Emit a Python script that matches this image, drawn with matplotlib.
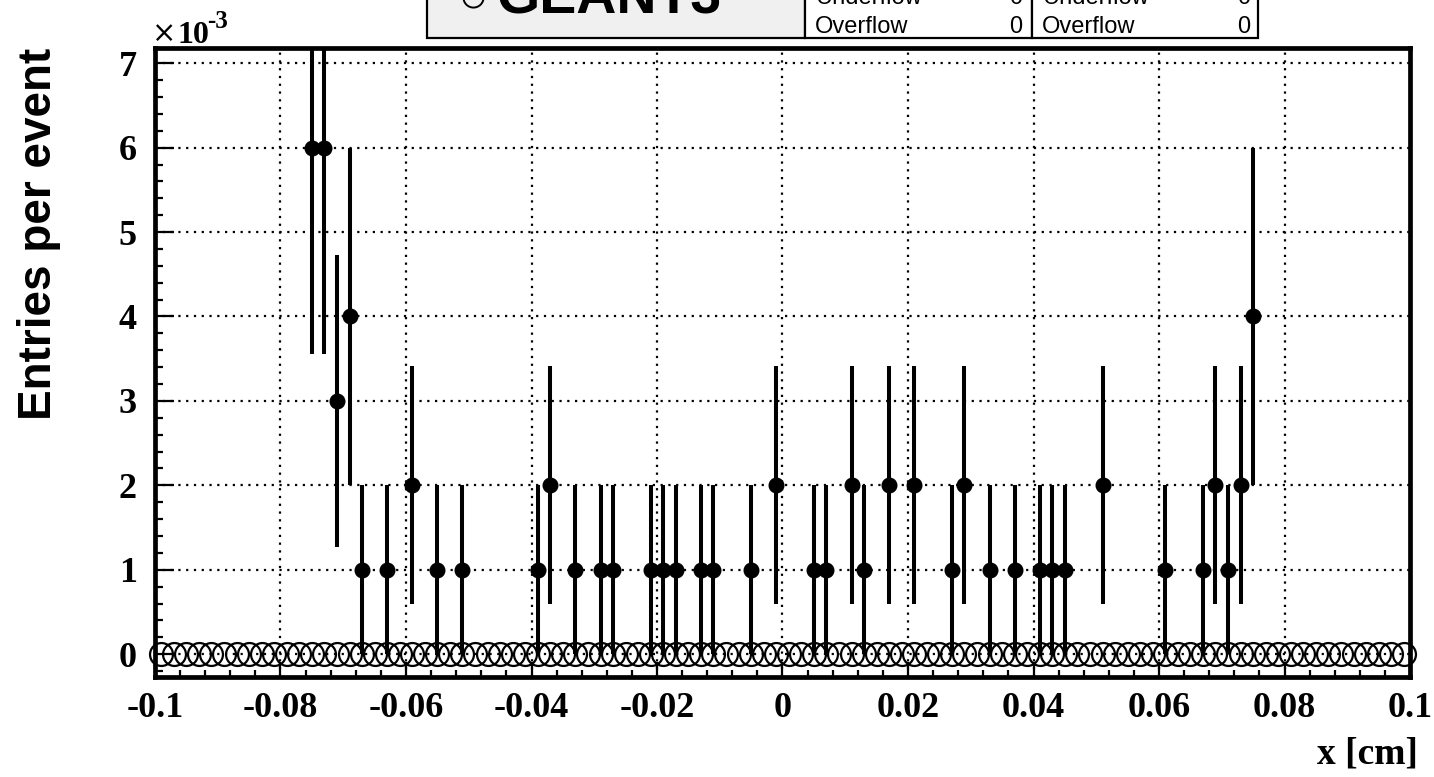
import matplotlib
matplotlib.use('Agg')
import matplotlib.pyplot as plt
import numpy as np
from matplotlib.patches import Rectangle
from matplotlib.ticker import MultipleLocator, FuncFormatter

# Data (units of 1e-3 entries per event)
data_x = [-0.075, -0.073, -0.071, -0.069, -0.067, -0.063, -0.059, -0.055, -0.051,
          -0.039, -0.037, -0.033, -0.029, -0.027, -0.021, -0.019, -0.017, -0.013,
          -0.011, -0.005, -0.001, 0.005, 0.007, 0.011, 0.013, 0.017, 0.021, 0.027,
          0.029, 0.033, 0.037, 0.041, 0.043, 0.045, 0.051, 0.061, 0.067, 0.069,
          0.071, 0.073, 0.075]
data_y = [6, 6, 3, 4, 1, 1, 2, 1, 1,
          1, 2, 1, 1, 1, 1, 1, 1, 1,
          1, 1, 2, 1, 1, 2, 1, 2, 2, 1,
          2, 1, 1, 1, 1, 1, 2, 1, 1, 2,
          1, 2, 4]
data_err = [2.45, 2.45, 1.73, 2.0, 1.0, 1.0, 1.41, 1.0, 1.0,
            1.0, 1.41, 1.0, 1.0, 1.0, 1.0, 1.0, 1.0, 1.0,
            1.0, 1.0, 1.41, 1.0, 1.0, 1.41, 1.0, 1.41, 1.41, 1.0,
            1.41, 1.0, 1.0, 1.0, 1.0, 1.0, 1.41, 1.0, 1.0, 1.41,
            1.0, 1.41, 2.0]

# GEANT3 histogram: 100 bins from -0.1 to 0.1, all empty
geant_edges = np.linspace(-0.1, 0.1, 101)
geant_x = 0.5 * (geant_edges[:-1] + geant_edges[1:])
geant_y = [0.0] * 100

stat_labels = ['Underflow', 'Overflow']
stat_values = [0, 0]

W, H = 1434, 777
fig = plt.figure(figsize=(W / 100, H / 100), dpi=100)
fig.patch.set_facecolor('white')

# pixel -> figure fraction helpers
def fx(px):
    return px / W

def fy(py):
    return 1 - py / H

ax = fig.add_axes([fx(155), fy(677), fx(1410) - fx(155), fy(48) - fy(677)])

# open circles (GEANT3)
ax.plot(geant_x, geant_y, 'o', mfc='none', mec='black', ms=16.5, mew=1.6,
        clip_on=False, zorder=3)

# filled points with error bars
ax.errorbar(data_x, data_y, yerr=data_err, fmt='o', color='black', ms=10.5,
            elinewidth=2.9, capsize=0, zorder=4)

ax.set_xlim(-0.1, 0.1)
ax.set_ylim(-0.27, 7.18)

ax.xaxis.set_major_locator(MultipleLocator(0.02))
ax.xaxis.set_minor_locator(MultipleLocator(0.004))
ax.yaxis.set_major_locator(MultipleLocator(1))
ax.yaxis.set_minor_locator(MultipleLocator(0.2))

def xfmt(v, pos):
    if abs(v) < 1e-9:
        return '0'
    return ('%.2f' % v).rstrip('0')

ax.xaxis.set_major_formatter(FuncFormatter(xfmt))
ax.yaxis.set_major_formatter(FuncFormatter(lambda v, p: '%d' % round(v)))

ax.tick_params(which='both', direction='in', top=False, right=False, width=1.6)
ax.tick_params(axis='y', which='major', length=14, pad=13)
ax.tick_params(axis='y', which='minor', length=5.5)
ax.tick_params(axis='x', which='major', length=11, pad=11)
ax.tick_params(axis='x', which='minor', length=5)

for lab in ax.get_xticklabels() + ax.get_yticklabels():
    lab.set_fontfamily('Liberation Serif')
    lab.set_fontweight('bold')
    lab.set_fontsize(26)

for sp in ax.spines.values():
    sp.set_linewidth(3.4)

ax.grid(True, which='major', color='black', linestyle=(0, (1, 2.5)), linewidth=1.6)
ax.set_axisbelow(True)

# axis titles
fig.text(fx(1418), fy(754), 'x [cm]', ha='right', va='center',
         family='Liberation Serif', weight='bold', fontsize=27)
fig.text(fx(39), fy(234), 'Entries per event', rotation=90, ha='center',
         va='center', family='Liberation Sans', weight='bold', fontsize=33)
# exponent label above the y axis
fig.text(fx(152), fy(42), '\u00d7', ha='left', va='baseline',
         family='DejaVu Serif', fontsize=21)
fig.text(fx(177), fy(43), '10', ha='left', va='baseline',
         family='Liberation Serif', weight='bold', fontsize=23)
fig.text(fx(207), fy(28), '-3', ha='left', va='baseline',
         family='Liberation Serif', weight='bold', fontsize=18)

# legend / stats boxes (top part cut off by the image border)
for x0, x1, fc in [(427, 805, '#f0f0f0'), (805, 1032, 'white'), (1032, 1258, 'white')]:
    fig.patches.append(Rectangle((fx(x0), fy(38)), fx(x1) - fx(x0), fy(-60) - fy(38),
                                 transform=fig.transFigure, facecolor=fc,
                                 edgecolor='black', linewidth=1.6, zorder=5))
fig.lines.append(plt.Line2D([fx(473)], [fy(-3)], marker='o', mfc='none', mec='black',
                            ms=14.5, mew=1.4, transform=fig.transFigure, zorder=6))
fig.text(fx(497), fy(14), 'GEANT3', ha='left', va='baseline', family='Liberation Sans',
         weight='bold', fontsize=40, zorder=6)

for x0, x1 in [(815, 1022), (1042, 1250)]:
    for i, (lab, val) in enumerate(zip(stat_labels, stat_values)):
        yb = 4 + 29 * i
        fig.text(fx(x0), fy(yb), lab, ha='left', va='baseline',
                 family='Liberation Sans', fontsize=17, zorder=6)
        fig.text(fx(x1), fy(yb), str(val), ha='right', va='baseline',
                 family='Liberation Sans', fontsize=17, zorder=6)

fig.savefig('out.png', dpi=100)
